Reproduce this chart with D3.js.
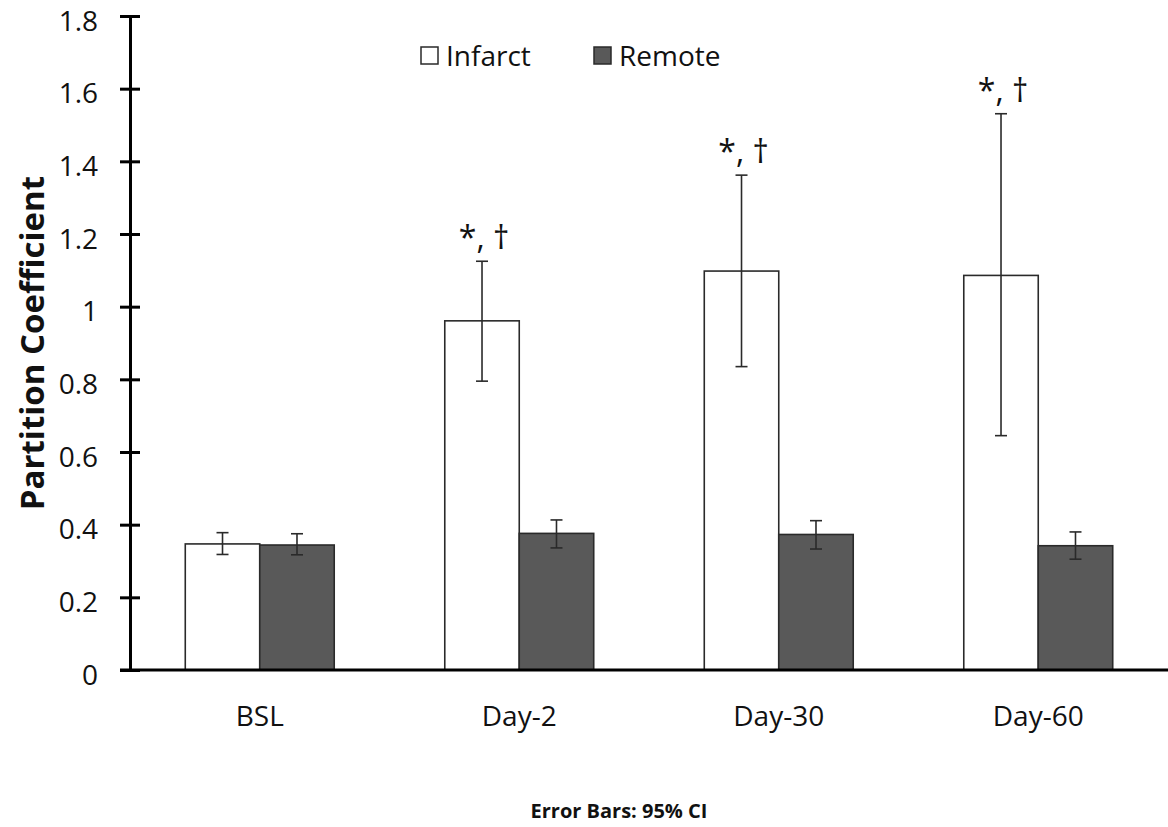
<!DOCTYPE html>
<html>
<head>
<meta charset="utf-8">
<script src="https://cdn.jsdelivr.net/npm/d3@7"></script>
<style>
  body { margin: 0; background: #fff; }
  text { font-family: "Open Sans", sans-serif; fill: #111; }
</style>
</head>
<body>
<div id="chart"></div>
<script>
// values
const categories = ["BSL", "Day-2", "Day-30", "Day-60"];
const seriesNames = ["Infarct", "Remote"];
const infarctMean = [0.347, 0.961, 1.098, 1.086];
const infarctLow  = [0.318, 0.795, 0.835, 0.645];
const infarctHigh = [0.378, 1.125, 1.362, 1.531];
const remoteMean  = [0.344, 0.376, 0.373, 0.342];
const remoteLow   = [0.317, 0.336, 0.333, 0.305];
const remoteHigh  = [0.375, 0.413, 0.411, 0.380];
const marks = ["", "*, \u2020", "*, \u2020", "*, \u2020"];
const yTicks = [0, 0.2, 0.4, 0.6, 0.8, 1, 1.2, 1.4, 1.6, 1.8];

var width = 1168, height = 827;
var margin = {top: 16, right: 0, bottom: 157, left: 130};
var color = ["#ffffff", "#595959"];

var svg = d3.select("#chart").append("svg")
  .attr("width", width)
  .attr("height", height);

var x = d3.scaleBand()
  .domain(categories)
  .range([margin.left, width - margin.right])
  .paddingInner(0.426)
  .paddingOuter(0.213);

var xs = d3.scaleBand()
  .domain(seriesNames)
  .range([0, x.bandwidth()]);

var y = d3.scaleLinear()
  .domain([0, 1.8])
  .range([height - margin.bottom, margin.top]);

var rows = categories.map((c, i) => ({
  cat: c,
  mark: marks[i],
  vals: [
    {s: "Infarct", v: infarctMean[i], lo: infarctLow[i], hi: infarctHigh[i]},
    {s: "Remote", v: remoteMean[i], lo: remoteLow[i], hi: remoteHigh[i]}
  ]
}));

// bars
var groups = svg.selectAll("g.grp")
  .data(rows)
  .enter().append("g")
  .attr("class", "grp")
  .attr("transform", d => "translate(" + x(d.cat) + ",0)");

groups.selectAll("rect")
  .data(d => d.vals)
  .enter().append("rect")
  .attr("x", d => xs(d.s))
  .attr("y", d => y(d.v))
  .attr("width", xs.bandwidth())
  .attr("height", d => y(0) - y(d.v))
  .attr("fill", (d, i) => color[i])
  .attr("stroke", "#2a2a2a")
  .attr("stroke-width", 1.6);

// error bars
var capW = 12;
var eb = groups.selectAll("g.err")
  .data(d => d.vals)
  .enter().append("g")
  .attr("class", "err")
  .attr("stroke", "#2a2a2a")
  .attr("stroke-width", 1.6);
eb.append("line")
  .attr("x1", d => xs(d.s) + xs.bandwidth() / 2)
  .attr("x2", d => xs(d.s) + xs.bandwidth() / 2)
  .attr("y1", d => y(d.lo))
  .attr("y2", d => y(d.hi));
eb.append("line")
  .attr("x1", d => xs(d.s) + xs.bandwidth() / 2 - capW / 2)
  .attr("x2", d => xs(d.s) + xs.bandwidth() / 2 + capW / 2)
  .attr("y1", d => y(d.hi))
  .attr("y2", d => y(d.hi));
eb.append("line")
  .attr("x1", d => xs(d.s) + xs.bandwidth() / 2 - capW / 2)
  .attr("x2", d => xs(d.s) + xs.bandwidth() / 2 + capW / 2)
  .attr("y1", d => y(d.lo))
  .attr("y2", d => y(d.lo));

// significance marks
groups.append("text")
  .attr("x", xs("Infarct") + xs.bandwidth() / 2 + 2)
  .attr("y", d => y(d.vals[0].hi) - 12)
  .attr("text-anchor", "middle")
  .style("font-size", "32px")
  .text(d => d.mark);

// y axis
var yAxis = svg.append("g")
  .attr("transform", "translate(" + margin.left + ",0)")
  .call(d3.axisLeft(y).tickValues(yTicks).tickFormat(d => String(+d.toFixed(1)))
    .tickSizeInner(10).tickSizeOuter(0).tickPadding(22));
yAxis.select(".domain").attr("stroke", "#000").attr("stroke-width", 3);
yAxis.selectAll(".tick line").attr("x1", -10).attr("x2", 10)
  .attr("stroke", "#000").attr("stroke-width", 3);
yAxis.selectAll(".tick text").style("font-size", "28px").attr("fill", "#111")
  .attr("font-family", "Open Sans").attr("dy", "0.5em");

// x axis
var xAxis = svg.append("g")
  .attr("transform", "translate(0," + y(0) + ")")
  .call(d3.axisBottom(x).tickSize(0).tickPadding(36));
xAxis.select(".domain").attr("d", "M" + (margin.left - 10) + ",0H" + width)
  .attr("stroke", "#000").attr("stroke-width", 3);
xAxis.selectAll(".tick text").style("font-size", "28px").attr("fill", "#111")
  .attr("font-family", "Open Sans");

// y label
svg.append("text")
  .attr("transform", "translate(44," + ((y(0) + y(1.8)) / 2) + ") rotate(-90)")
  .attr("text-anchor", "middle")
  .style("font-size", "33px")
  .style("font-weight", "bold")
  .text("Partition Coefficient");

// legend
var legX = [421, 594];
var leg = svg.selectAll("g.leg")
  .data(seriesNames)
  .enter().append("g")
  .attr("class", "leg")
  .attr("transform", (d, i) => "translate(" + legX[i] + ",47)");
leg.append("rect")
  .attr("width", 17).attr("height", 17)
  .attr("fill", (d, i) => color[i])
  .attr("stroke", "#2a2a2a")
  .attr("stroke-width", 1.5);
leg.append("text")
  .attr("x", 25).attr("y", 19)
  .style("font-size", "28px")
  .text(d => d);

// footnote
svg.append("text")
  .attr("x", 619).attr("y", 818)
  .attr("text-anchor", "middle")
  .style("font-size", "20px")
  .style("font-weight", "bold")
  .text("Error Bars: 95% CI");
</script>
</body>
</html>
